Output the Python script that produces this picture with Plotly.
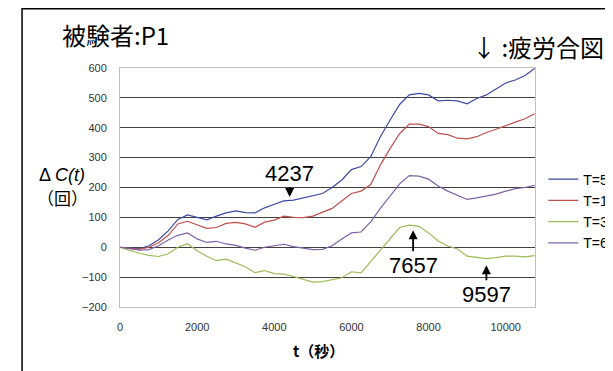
import plotly.graph_objects as go

# time grid (seconds)
t = [0, 250, 500, 750, 1000, 1250, 1500, 1750, 2000, 2250, 2500, 2750, 3000, 3250,
     3500, 3750, 4000, 4250, 4500, 4750, 5000, 5250, 5500, 5750, 6000, 6250, 6500,
     6750, 7000, 7250, 7500, 7750, 8000, 8250, 8500, 8750, 9000, 9250, 9500, 9750,
     10000, 10250, 10500, 10750]

T5 = [0, -3, -5, 5, 25, 55, 93, 108, 100, 92, 104, 115, 122, 116, 115, 132, 144, 155,
      158, 166, 172, 180, 200, 225, 260, 270, 303, 370, 425, 478, 510, 515, 510, 490,
      492, 490, 480, 498, 510, 530, 550, 560, 575, 598]
T10 = [0, -4, -7, 0, 15, 40, 78, 87, 75, 63, 66, 80, 83, 78, 67, 84, 91, 104, 100, 99,
       104, 118, 130, 155, 180, 188, 210, 275, 330, 380, 412, 412, 404, 381, 377, 365,
       363, 370, 384, 395, 408, 419, 430, 447]
T30 = [0, -10, -20, -27, -31, -22, 0, 12, -12, -30, -45, -40, -53, -65, -85, -78, -88,
       -90, -98, -107, -117, -115, -108, -102, -82, -86, -48, -10, 28, 66, 74, 70, 48,
       21, 4, -6, -30, -33, -38, -35, -30, -30, -32, -28]
T60 = [0, -5, -10, -8, 5, 24, 40, 48, 28, 16, 20, 11, 6, -3, -10, 0, 5, 10, 2, -2, -8,
       -7, 5, 28, 48, 51, 85, 130, 172, 212, 240, 238, 228, 205, 188, 175, 160, 165,
       172, 178, 188, 196, 200, 207]

series_names = ["T=5", "T=10", "T=30", "T=60"]
series_values = [T5, T10, T30, T60]
series_colors = ["#3C4BA5", "#C0504D", "#9BBB59", "#7D62A6"]

x_ticks = [0, 2000, 4000, 6000, 8000, 10000]
y_ticks = [-200, -100, 0, 100, 200, 300, 400, 500, 600]

# fatigue signal marks: (time, value at arrow tip, label, ay offset px)
marks_t = [4400, 7600, 9500]
marks_v = [168, 57, -60]
marks_label = ["4237", "7657", "9597"]
marks_ay = [-24, 35, 29]

fig = go.Figure()
for name, vals, col in zip(series_names, series_values, series_colors):
    fig.add_trace(go.Scatter(x=t, y=vals, mode="lines", name=name,
                             line=dict(color=col, width=1.2)))

tick_font = dict(family="Liberation Sans, Arial", size=11, color="#333333")
cjk = "Noto Sans CJK JP"

fig.update_layout(
    width=613, height=371,
    margin=dict(l=112, r=86, t=60, b=72, autoexpand=False),
    plot_bgcolor="white", paper_bgcolor="white",
    showlegend=True,
    legend=dict(x=1.02, y=0.6, xanchor="left", yanchor="top",
                font=dict(family="Liberation Sans, Arial", size=14, color="black"),
                bgcolor="rgba(0,0,0,0)", itemwidth=30, tracegroupgap=0),
    xaxis=dict(range=[0, 10760], tickvals=x_ticks, ticktext=[str(v) for v in x_ticks],
               showgrid=False, zeroline=False, showline=True, linecolor="#c0c0c0",
               linewidth=1, mirror=True, ticks="", tickfont=tick_font,
               ticklabelstandoff=10),
    xaxis2=dict(range=[0, 10760], overlaying="x", anchor="free", position=0.25,
                side="top", tickvals=x_ticks, showticklabels=False, ticks="outside",
                ticklen=4, tickcolor="#999999", showline=True, linecolor="#999999",
                linewidth=1, showgrid=False, zeroline=False),
    yaxis=dict(range=[-200, 600], tickvals=y_ticks, ticktext=[str(v).replace("-", "\u2212") for v in y_ticks],
               showgrid=True, gridcolor="#404040", gridwidth=1, zeroline=False,
               showline=True, linecolor="#c0c0c0", linewidth=1, mirror=True,
               ticks="", tickfont=tick_font, ticklabelstandoff=10),
)

# outer frame (top edge sits at the very top of the figure)
fig.add_shape(type="rect", xref="paper", yref="paper", x0=-0.236, y0=-2, x1=3, y1=1.248,
              line=dict(color="black", width=1.5), layer="above")

for mt, mv, ml, may in zip(marks_t, marks_v, marks_label, marks_ay):
    fig.add_annotation(x=mt, y=mv, xref="x", yref="y", text=ml, showarrow=True,
                       ax=0, ay=may, arrowhead=2, arrowsize=1, arrowwidth=1.8,
                       arrowcolor="black",
                       font=dict(family="Liberation Sans, Arial", size=22, color="black"))

fig.add_annotation(xref="paper", yref="paper", x=-0.1446, y=1.142, xanchor="left",
                   yanchor="middle", text="被験者:P1", showarrow=False,
                   font=dict(family=cjk, size=24, color="black"))
fig.add_annotation(xref="paper", yref="paper", x=0.843, y=1.092, xanchor="left",
                   yanchor="middle", text="↓ :疲労合図", showarrow=False,
                   font=dict(family=cjk, size=24, color="black"))
fig.add_annotation(xref="paper", yref="paper", x=-0.14, y=0.552, xanchor="center",
                   yanchor="middle", text="Δ <i>C(t)</i>", showarrow=False,
                   font=dict(family="Liberation Sans, Arial", size=18, color="black"))
fig.add_annotation(xref="paper", yref="paper", x=-0.138, y=0.457, xanchor="center",
                   yanchor="middle", text="（回）", showarrow=False,
                   font=dict(family=cjk, size=17, color="black"))
fig.add_annotation(xref="paper", yref="paper", x=0.4795, y=-0.184, xanchor="center",
                   yanchor="middle", text="<b>t（秒）</b>", showarrow=False,
                   font=dict(family=cjk, size=15, color="black"))

fig.write_html("out.html")
